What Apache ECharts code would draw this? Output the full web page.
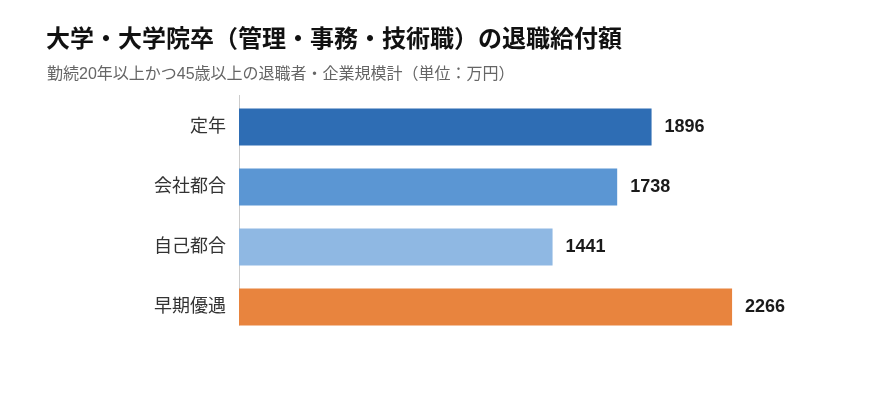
<!DOCTYPE html>
<html>
<head>
<meta charset="utf-8">
<script src="https://cdn.jsdelivr.net/npm/echarts@6/dist/echarts.min.js"></script>
<style>
  html, body { margin: 0; padding: 0; background: #fff; }
  #chart { width: 870px; height: 413px; }
</style>
</head>
<body>
<div id="chart"></div>
<script>
// categories, top to bottom
const categories = ['定年', '会社都合', '自己都合', '早期優遇'];
const values = [1896, 1738, 1441, 2266];
const barColors = ['#2E6DB4', '#5B96D3', '#8FB8E3', '#E8843E'];

const FONT = "'Liberation Sans', 'Noto Sans CJK JP', sans-serif";
const GRID_TOP = 97;
const BAR_W = 37;

const chart = echarts.init(document.getElementById('chart'));

const option = {
  backgroundColor: '#fff',
  animation: false,
  title: [{
    text: '大学・大学院卒（管理・事務・技術職）の退職給付額',
    left: 41,
    top: 23,
    textStyle: {
      fontFamily: FONT,
      fontSize: 24,
      fontWeight: 'bold',
      color: '#111'
    }
  }, {
    text: '勤続20年以上かつ45歳以上の退職者・企業規模計（単位：万円）',
    left: 42,
    top: 62,
    textStyle: {
      fontFamily: FONT,
      fontSize: 16,
      fontWeight: 'normal',
      color: '#666'
    }
  }],
  grid: {
    left: 239,
    top: GRID_TOP,
    width: 544,
    height: 240
  },
  xAxis: {
    type: 'value',
    min: 0,
    max: 2500,
    axisLine: { show: false },
    axisTick: { show: false },
    axisLabel: { show: false },
    splitLine: { show: false }
  },
  yAxis: {
    type: 'category',
    inverse: true,
    data: categories,
    axisLine: { show: false },
    axisTick: { show: false },
    axisLabel: {
      margin: 13,
      fontFamily: FONT,
      fontSize: 18,
      color: '#333'
    }
  },
  series: [{
    type: 'bar',
    barWidth: BAR_W,
    data: values.map((v, i) => ({
      value: v,
      itemStyle: { color: barColors[i] }
    })),
    label: {
      show: true,
      position: 'right',
      distance: 13,
      fontFamily: FONT,
      fontSize: 18,
      fontWeight: 'bold',
      color: '#1a1a1a'
    }
  }]
};

chart.setOption(option);

// the axis line stops at the bottom edge of the last bar
const last = chart.convertToPixel({ gridIndex: 0 }, [0, categories[categories.length - 1]]);
chart.setOption({
  graphic: [{
    type: 'line',
    shape: { x1: last[0] + 0.5, y1: GRID_TOP - 2, x2: last[0] + 0.5, y2: last[1] + BAR_W / 2 },
    style: { stroke: '#ccc', lineWidth: 1 },
    z: 0
  }]
});
</script>
</body>
</html>
